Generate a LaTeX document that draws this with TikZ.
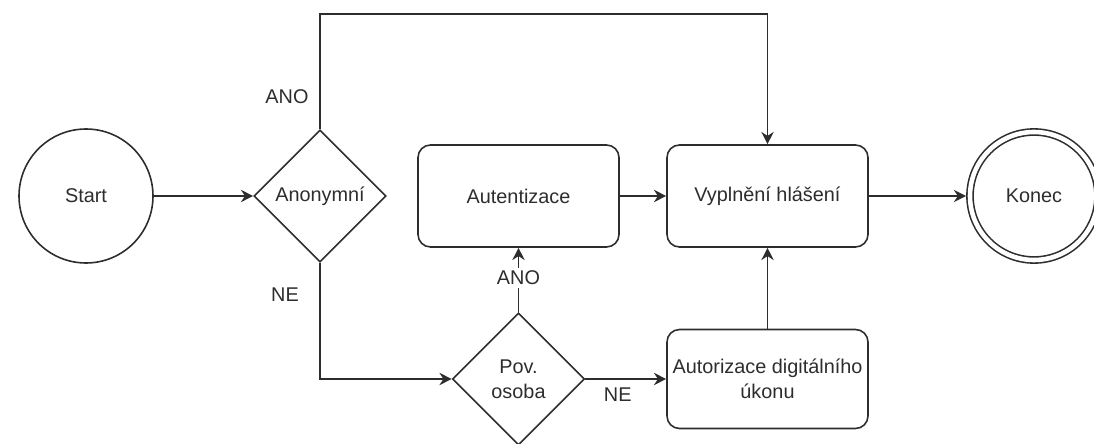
\documentclass[tikz,border=0pt]{standalone}
\usepackage{fontspec}
\setmainfont{Liberation Sans}
\usetikzlibrary{arrows.meta,positioning,shapes.geometric}
\definecolor{ink}{RGB}{45,45,45}

\begin{document}
\begin{tikzpicture}[>={Stealth[length=7pt,width=7pt]}, line width=0.9pt, draw=ink, text=ink,
  font=\fontsize{11.3}{14.4}\selectfont,
  stav/.style={circle, draw, minimum size=2.68cm, inner sep=0pt},
  konecstav/.style={circle, draw, double=white, double distance=2.6pt, outer sep=2.2pt,
    minimum size=2.56cm, inner sep=0pt},
  krok/.style={rectangle, rounded corners=0.25cm, draw, minimum width=4.02cm,
    minimum height=2.04cm, align=center, inner sep=0pt},
  volba/.style={diamond, draw, aspect=1, minimum width=2.64cm, minimum height=2.64cm,
    inner sep=0pt, align=center}]
  \useasboundingbox (0,0) rectangle (21.88,8.86);

  % uzly
  \node[stav] (start) at (1.72,4.94) {Start};
  \node[volba] (anon) at (6.40,4.94) {Anonymní};
  \node[krok] (autent) at (10.37,4.94) {Autentizace};
  \node[krok] (vypl) at (15.35,4.94) {Vyplnění hlášení};
  \node[konecstav] (konec) at (20.68,4.94) {Konec};
  \node[volba] (pov) at (10.37,1.28) {Pov.\\osoba};
  \node[krok, minimum height=1.98cm] (autor) at (15.35,1.28) {Autorizace digitálního\\úkonu};
  \coordinate (horni) at (6.40,8.58);

  % popisky
  \node (ano1) at (5.74,6.92) {ANO};
  \node (ne1) at (5.70,2.96) {NE};

  % spojnice
  \draw[->] (start) -- (anon);
  \draw[->] (anon.north) -- (horni) -| (vypl.north);
  \draw[->] (anon.south) |- (pov.west);
  \draw[->] (pov.north) -- (autent.south) node[pos=0.53, fill=white, inner sep=1.5pt] {ANO};
  \draw[->] (pov.east) -- (autor.west) node[midway, below=1pt, xshift=-0.16cm] {NE};
  \draw[->] (autent) -- (vypl);
  \draw[->] (autor) -- (vypl);
  \draw[->] (vypl) -- (konec);
\end{tikzpicture}
\end{document}
